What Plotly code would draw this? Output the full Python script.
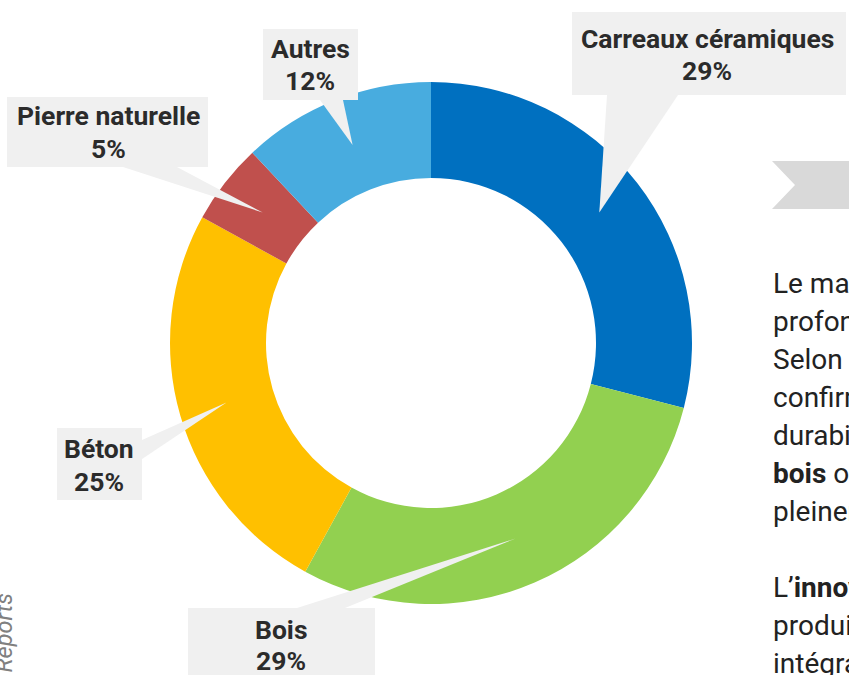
import math
import plotly.graph_objects as go

# ---- data ----
categories = ["Carreaux céramiques", "Bois", "Béton", "Pierre naturelle", "Autres"]
shares = [29, 29, 25, 5, 12]
colors = ["#0070C0", "#92D050", "#FFC000", "#C0504D", "#48ACDF"]

W, H = 849, 675
CX, CY, R_OUT, R_IN = 431, 343, 261, 165

callouts = {
    "Carreaux céramiques": dict(box=(572, 12, 846, 95), tx=707, ty=(38, 70), base=[(607, 95), (678, 95)]),
    "Bois": dict(box=(188, 608, 375, 700), tx=281, ty=(629, 660), base=[(297, 608), (345, 608)]),
    "Béton": dict(box=(57, 428, 142, 500), tx=99, ty=(448, 481), base=[(142, 440), (142, 459)]),
    "Pierre naturelle": dict(box=(7, 97, 208, 167), tx=108, ty=(115, 148), base=[(123, 167), (177, 167)]),
    "Autres": dict(box=(263, 29, 358, 100), tx=310, ty=(48, 80), base=[(320, 100), (343, 100)]),
}

body_lines = [
    "Le marché des revêtements de sol connaît une",
    "profonde mutation, portée par de nouvelles attentes.",
    "Selon les dernières études, les carreaux céramiques",
    "confirment leur position de leader grâce à leur",
    "durabilité et à leur facilité d'entretien. Le",
    "<b>bois</b> occupe une part équivalente et s'inscrit",
    "pleinement dans la tendance des matériaux naturels.",
    "",
    "L’<b>innovation</b> transforme également l'offre de",
    "produits, avec des solutions plus durables",
    "intégrant des matériaux recyclés.",
]

fig = go.Figure()

fig.add_trace(go.Pie(
    labels=categories, values=shares, sort=False, direction="clockwise", rotation=0,
    hole=R_IN / R_OUT, marker=dict(colors=colors, line=dict(width=0)),
    textinfo="none", hoverinfo="label+percent", showlegend=False,
    domain=dict(x=[(CX - R_OUT) / W, (CX + R_OUT) / W],
                y=[1 - (CY + R_OUT) / H, 1 - (CY - R_OUT) / H]),
))

# invisible pixel axes for overlays
fig.add_trace(go.Scatter(x=[0, W], y=[0, H], mode="markers", marker=dict(opacity=0),
                         hoverinfo="skip", showlegend=False))

total = sum(shares)
cum = 0
shapes = []
annotations = []
BOX = "#F0F0F0"
R_MID = (R_OUT + R_IN) / 2
for name, v in zip(categories, shares):
    mid = (cum + v / 2) / total * 2 * math.pi
    cum += v
    tipx = CX + R_MID * math.sin(mid)
    tipy = CY - R_MID * math.cos(mid)
    c = callouts[name]
    x0, y0, x1, y1 = c["box"]
    shapes.append(dict(type="rect", xref="x", yref="y", x0=x0, y0=y0, x1=x1, y1=y1,
                       fillcolor=BOX, line=dict(width=0), layer="above"))
    (bx0, by0), (bx1, by1) = c["base"]
    shapes.append(dict(type="path", xref="x", yref="y",
                       path=f"M{bx0},{by0} L{bx1},{by1} L{tipx:.1f},{tipy:.1f} Z",
                       fillcolor=BOX, line=dict(width=0), layer="above"))
    for txt, yy in zip([name, f"{v}%"], c["ty"]):
        annotations.append(dict(x=c["tx"], y=yy, xref="x", yref="y", text=f"<b>{txt}</b>",
                                showarrow=False, xanchor="center", yanchor="middle",
                                font=dict(family="Roboto", size=26.5, color="#2B2B2B")))

# chevron
shapes.append(dict(type="path", xref="x", yref="y",
                   path="M772,161 L860,161 L860,209 L772,209 L795,185 Z",
                   fillcolor="#D9D9D9", line=dict(width=0), layer="above"))

for i, line in enumerate(body_lines):
    if not line:
        continue
    annotations.append(dict(x=771, y=283 + 38 * i, xref="x", yref="y", text=line,
                            showarrow=False, xanchor="left", yanchor="middle",
                            font=dict(family="Roboto", size=28, color="#222222")))

annotations.append(dict(x=3, y=592, xref="x", yref="y", text="<i>Reports</i>",
                        textangle=-90, showarrow=False, xanchor="center", yanchor="top",
                        font=dict(family="Roboto", size=23.5, color="#808080")))

fig.update_layout(
    width=W, height=H, margin=dict(l=0, r=0, t=0, b=0),
    paper_bgcolor="white", plot_bgcolor="rgba(0,0,0,0)",
    xaxis=dict(range=[0, W], visible=False, fixedrange=True),
    yaxis=dict(range=[H, 0], visible=False, fixedrange=True),
    shapes=shapes, annotations=annotations, showlegend=False,
)

fig.write_html("out.html", config={"displayModeBar": False},
               post_script="document.body.style.margin='0px';document.body.style.overflow='hidden';")
